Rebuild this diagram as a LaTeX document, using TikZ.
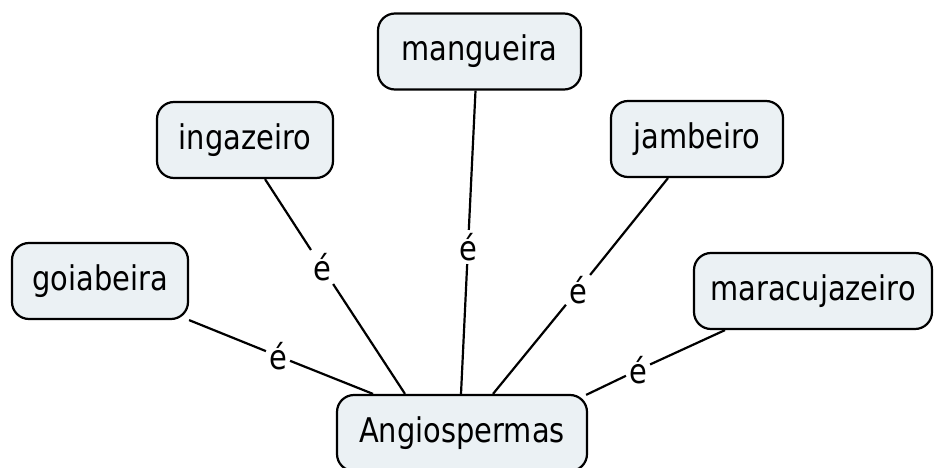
\documentclass[tikz,border=0pt]{standalone}
\usepackage{fontspec}
\setmainfont[FakeStretch=0.85]{DejaVu Sans}
\definecolor{boxfill}{HTML}{EBF1F4}
\begin{document}
\begin{tikzpicture}[x=1pt,y=-1pt,
  concept/.style={draw=black, line width=2.2pt, fill=boxfill, rounded corners=17pt,
    minimum height=76pt, inner sep=0pt, font=\fontsize{34}{40}\selectfont},
  lbl/.style={inner sep=3pt, font=\fontsize{34}{40}\selectfont},
  link/.style={line width=2.2pt, black}]
\useasboundingbox (0,0) rectangle (934,468);
\node[concept, minimum width=176pt] (goia) at (100,281) {goiabeira};
\node[concept, minimum width=176pt] (inga) at (245,140) {ingazeiro};
\node[concept, minimum width=203pt] (mang) at (479.5,51.5) {mangueira};
\node[concept, minimum width=172pt] (jamb) at (697,139) {jambeiro};
\node[concept, minimum width=238pt] (mara) at (813,291) {maracujazeiro};
\node[concept, minimum width=250pt] (ang) at (462,433) {Angiospermas};
\node[lbl] (l1) at (278,356) {é};
\node[lbl] (l2) at (322,267) {é};
\node[lbl] (l3) at (468,247) {é};
\node[lbl] (l4) at (578,290) {é};
\node[lbl] (l5) at (638,370) {é};
\draw[link] (goia.south east) -- (l1) -- ([xshift=-89pt]ang.north);
\draw[link] ([xshift=20pt]inga.south) -- (l2) -- ([xshift=-57pt]ang.north);
\draw[link] ([xshift=-4pt]mang.south) -- (l3) -- ([xshift=-1pt]ang.north);
\draw[link] ([xshift=-29pt]jamb.south) -- (l4) -- ([xshift=31pt]ang.north);
\draw[link] ([xshift=-88pt]mara.south) -- (l5) -- ([xshift=-2pt,yshift=-1pt]ang.north east);
\end{tikzpicture}
\end{document}
